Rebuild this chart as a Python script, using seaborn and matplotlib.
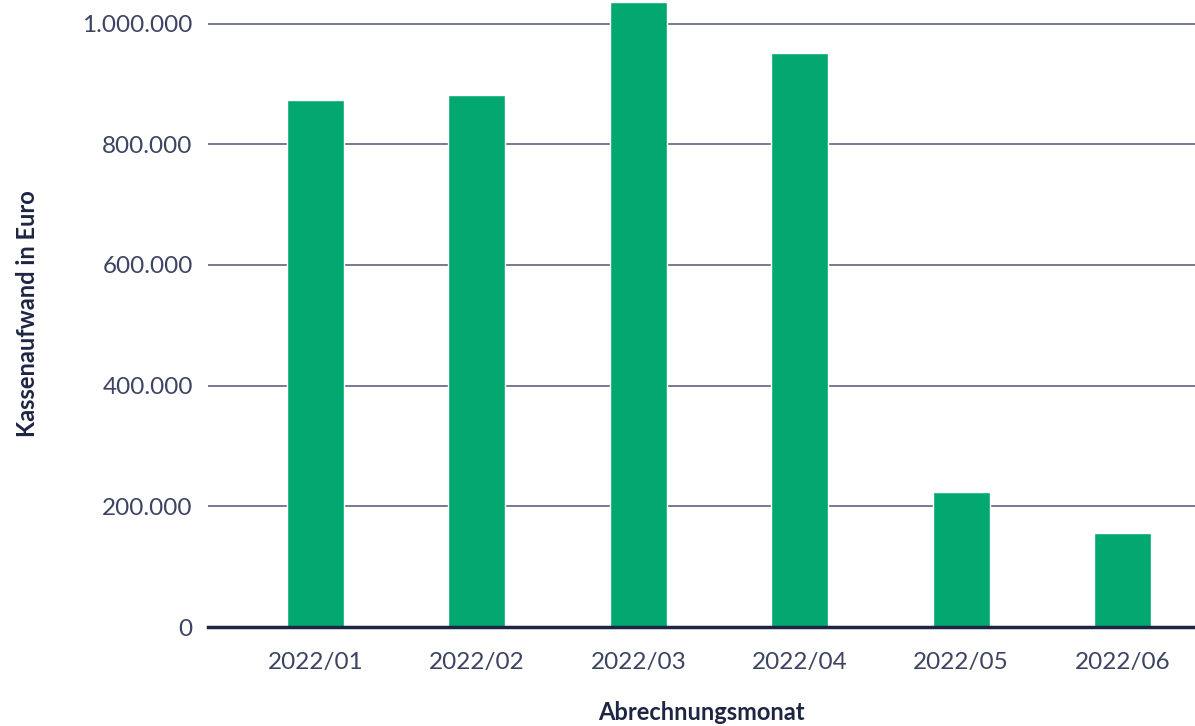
import matplotlib
matplotlib.use("Agg")
import matplotlib.pyplot as plt
import seaborn as sns
import pandas as pd
from matplotlib.ticker import FuncFormatter

months = ["2022/01", "2022/02", "2022/03", "2022/04", "2022/05", "2022/06"]
values = [873000, 881000, 1036000, 952000, 223000, 155000]
yticks = [0, 200000, 400000, 600000, 800000, 1000000]

df = pd.DataFrame({"Abrechnungsmonat": months, "Kassenaufwand": values})

sns.set_theme(style="white")
plt.rcParams["font.family"] = ["Lato", "DejaVu Sans"]

fig = plt.figure(figsize=(11.95, 7.26), dpi=100)
ax = fig.add_axes([208/1195, 99/726, 1 - 208/1195, 1 - 99/726])

green = "#02a86f"
navy = "#1d2542"
grid = "#5d6480"
tickc = "#3b4461"

sns.barplot(data=df, x="Abrechnungsmonat", y="Kassenaufwand", color=green,
            width=0.353, saturation=1, ax=ax, zorder=3)

ax.set_xlim(-0.666, 5.449)
ax.set_ylim(0, 1039000)
ax.set_yticks(yticks)
ax.yaxis.set_major_formatter(FuncFormatter(lambda v, p: f"{int(v):,}".replace(",", ".")))
ax.grid(axis="y", color=grid, linewidth=1.2, zorder=0)
ax.set_axisbelow(True)
for s in ["top", "right", "left"]:
    ax.spines[s].set_visible(False)
ax.spines["bottom"].set_color(navy)
ax.spines["bottom"].set_linewidth(2.5)
ax.spines["bottom"].set_zorder(4)

ax.tick_params(axis="y", length=0, pad=11, labelsize=17.5, labelcolor=tickc)
ax.tick_params(axis="x", length=0, pad=18, labelsize=17.5, labelcolor=tickc)

ax.set_xlabel("Abrechnungsmonat", fontsize=17, color=navy, fontweight="bold")
ax.set_ylabel("Kassenaufwand in Euro", fontsize=17, color=navy, fontweight="bold")
ax.xaxis.label.set_va("center")
ax.yaxis.label.set_va("center")
ax.xaxis.set_label_coords(0.5, -86/627)
ax.yaxis.set_label_coords(-180/987, 0.5)

fig.savefig("out.png", dpi=100)
